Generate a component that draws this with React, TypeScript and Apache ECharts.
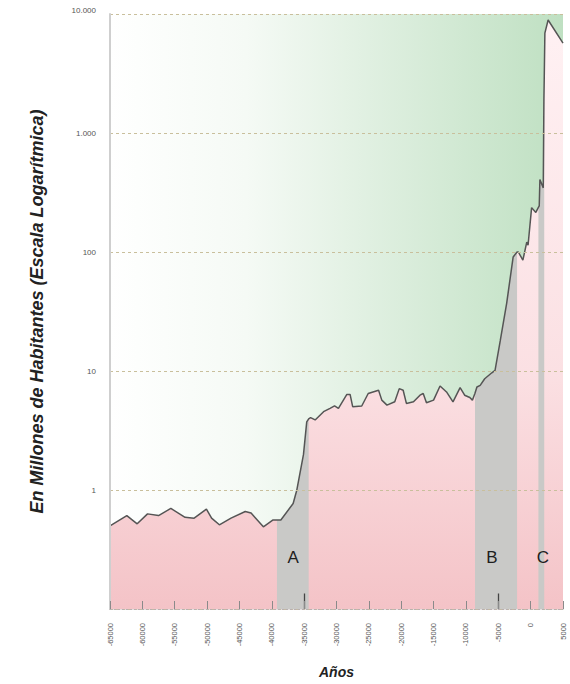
import React, { useEffect, useRef } from "react";
import * as echarts from "echarts";

// Years (negative = BC) and world population in millions
const years = [
  -65000, -62400, -60800, -59200, -57500, -55600, -53400, -52000, -50100, -49300,
  -48100, -46300, -44100, -43200, -41300, -39800, -39200, -38600, -36700, -36150,
  -35100, -34600, -34300, -34000, -33300, -32000, -31000, -30300, -29700, -28400,
  -27900, -27500, -26100, -25100, -23500, -23000, -22200, -21000, -20300, -19700,
  -19200, -18100, -17100, -16600, -16100, -15000, -14000, -13000, -12000, -10900,
  -10200, -9400, -9000, -8600, -8300, -7800, -7100, -6000, -5500, -4700,
  -3700, -3200, -2700, -2100, -1900, -1200, -600, -400, 150, 800,
  1200, 1330, 1430, 1950, 2050, 2100, 2200, 2700, 5000,
];
const population = [
  0.5, 0.61, 0.52, 0.63, 0.61, 0.7, 0.59, 0.58, 0.69, 0.58,
  0.51, 0.58, 0.66, 0.64, 0.49, 0.56, 0.56, 0.56, 0.77, 0.99,
  1.99, 3.74, 3.96, 4.06, 3.88, 4.55, 4.86, 5.1, 4.86, 6.35,
  6.35, 5.01, 5.08, 6.47, 6.89, 5.69, 5.17, 5.51, 7.11, 6.89,
  5.34, 5.51, 6.26, 6.47, 5.41, 5.69, 7.48, 6.67, 5.51, 7.26,
  6.26, 5.99, 5.69, 6.5, 7.34, 7.58, 8.61, 9.66, 10.1, 17.9,
  37.2, 58.2, 90.9, 100, 100, 85.3, 121, 114, 236, 215,
  237, 244, 406, 346, 1933, 2840, 6900, 8900, 5700,
];

// Highlighted periods
const bandNames = ["A", "B", "C"];
const bandStart = [-39200, -8600, 1200];
const bandEnd = [-34300, -2100, 2100];
const bandLabelX = [-36700, -6000, 1900];
const bandLabelY = 0.27;

// Emphasised ticks
const markedTicks = [-35000, -5000];

const FONT = "'Liberation Sans', Arial, sans-serif";

export default function App() {
  const ref = useRef<HTMLDivElement>(null);

  useEffect(() => {
    if (!ref.current) return;
    const chart = echarts.init(ref.current, null, { renderer: "svg" });
    const data = years.map((y, i) => [y, population[i]]);

    const bandSeries = bandNames.map((name, b) => ({
      name,
      type: "line",
      data: data.filter((d) => d[0] >= bandStart[b] && d[0] <= bandEnd[b]),
      symbol: "none",
      lineStyle: { width: 0, opacity: 0 },
      areaStyle: { color: "#c9c9c7", opacity: 1, origin: "start" },
      silent: true,
      markPoint: {
        symbol: "circle",
        symbolSize: 1,
        itemStyle: { color: "rgba(0,0,0,0)" },
        label: {
          show: true,
          position: "inside",
          formatter: "{b}",
          fontSize: 17,
          fontFamily: FONT,
          color: "#1e1e1e",
        },
        data: [{ name, coord: [bandLabelX[b], bandLabelY] }],
      },
    }));

    const option: any = {
      animation: false,
      textStyle: { fontFamily: FONT },
      grid: {
        left: 110,
        right: 7,
        top: 14,
        bottom: 68,
        show: true,
        borderWidth: 0,
        backgroundColor: new echarts.graphic.LinearGradient(0, 0, 1, 0, [
          { offset: 0, color: "#ffffff" },
          { offset: 0.3, color: "#f5faf5" },
          { offset: 1, color: "#bfe0c2" },
        ]),
      },
      xAxis: {
        type: "value",
        min: -65000,
        max: 5000,
        interval: 5000,
        z: 10,
        name: "Años",
        nameLocation: "middle",
        nameGap: 56,
        nameTextStyle: {
          fontSize: 14,
          fontWeight: "bold",
          fontStyle: "italic",
          color: "#222",
          fontFamily: FONT,
        },
        axisLine: {
          show: true,
          onZero: false,
          lineStyle: { color: "#b9b0b0", type: [2, 2], width: 1 },
        },
        axisTick: {
          show: true,
          inside: true,
          length: 8,
          lineStyle: { color: "#8a8a8a", width: 1 },
        },
        axisLabel: {
          rotate: 90,
          fontSize: 7.5,
          color: "#555",
          margin: 14,
          fontFamily: FONT,
          formatter: (v: number) => String(v),
        },
        splitLine: { show: false },
      },
      yAxis: {
        type: "log",
        logBase: 10,
        min: 0.1,
        max: 10000,
        z: 10,
        name: "En Millones de Habitantes (Escala Logarítmica)",
        nameLocation: "middle",
        nameGap: 64,
        nameTextStyle: {
          fontSize: 18,
          fontWeight: "bold",
          fontStyle: "italic",
          color: "#222",
          fontFamily: FONT,
        },
        axisLine: {
          show: true,
          onZero: false,
          lineStyle: { color: "#cfcfcf", width: 2 },
        },
        axisTick: { show: false },
        axisLabel: {
          fontSize: 8,
          color: "#555",
          margin: 14,
          fontFamily: FONT,
          verticalAlignMaxLabel: "bottom",
          formatter: (v: number) => {
            if (v < 1) return "";
            const n = Math.round(v);
            return n.toString().replace(/\B(?=(\d{3})+(?!\d))/g, ".");
          },
        },
        splitLine: {
          show: true,
          lineStyle: { color: "#c9bf9c", type: [3, 3], width: 1 },
        },
      },
      series: [
        {
          name: "fondo",
          type: "line",
          data,
          symbol: "none",
          silent: true,
          lineStyle: { width: 0, opacity: 0 },
          areaStyle: {
            origin: "start",
            opacity: 1,
            color: new echarts.graphic.LinearGradient(0, 0, 0, 1, [
              { offset: 0, color: "#fff1f3" },
              { offset: 0.6, color: "#fbe0e3" },
              { offset: 1, color: "#f4c3c7" },
            ]),
          },
        },
        ...bandSeries,
        {
          name: "Población",
          type: "line",
          data,
          symbol: "none",
          silent: true,
          lineStyle: { color: "#555555", width: 1.5 },
          markLine: {
            silent: true,
            symbol: ["none", "none"],
            label: { show: false },
            lineStyle: { color: "#444", width: 1.3, type: "solid" },
            data: markedTicks.map((t) => [
              { coord: [t, 0.1] },
              { coord: [t, 0.135] },
            ]),
          },
        },
      ],
    };

    chart.setOption(option);
    return () => chart.dispose();
  }, []);

  return (
    <div
      ref={ref}
      style={{ position: "fixed", left: 0, top: 0, width: 570, height: 684, background: "#fff" }}
    />
  );
}
